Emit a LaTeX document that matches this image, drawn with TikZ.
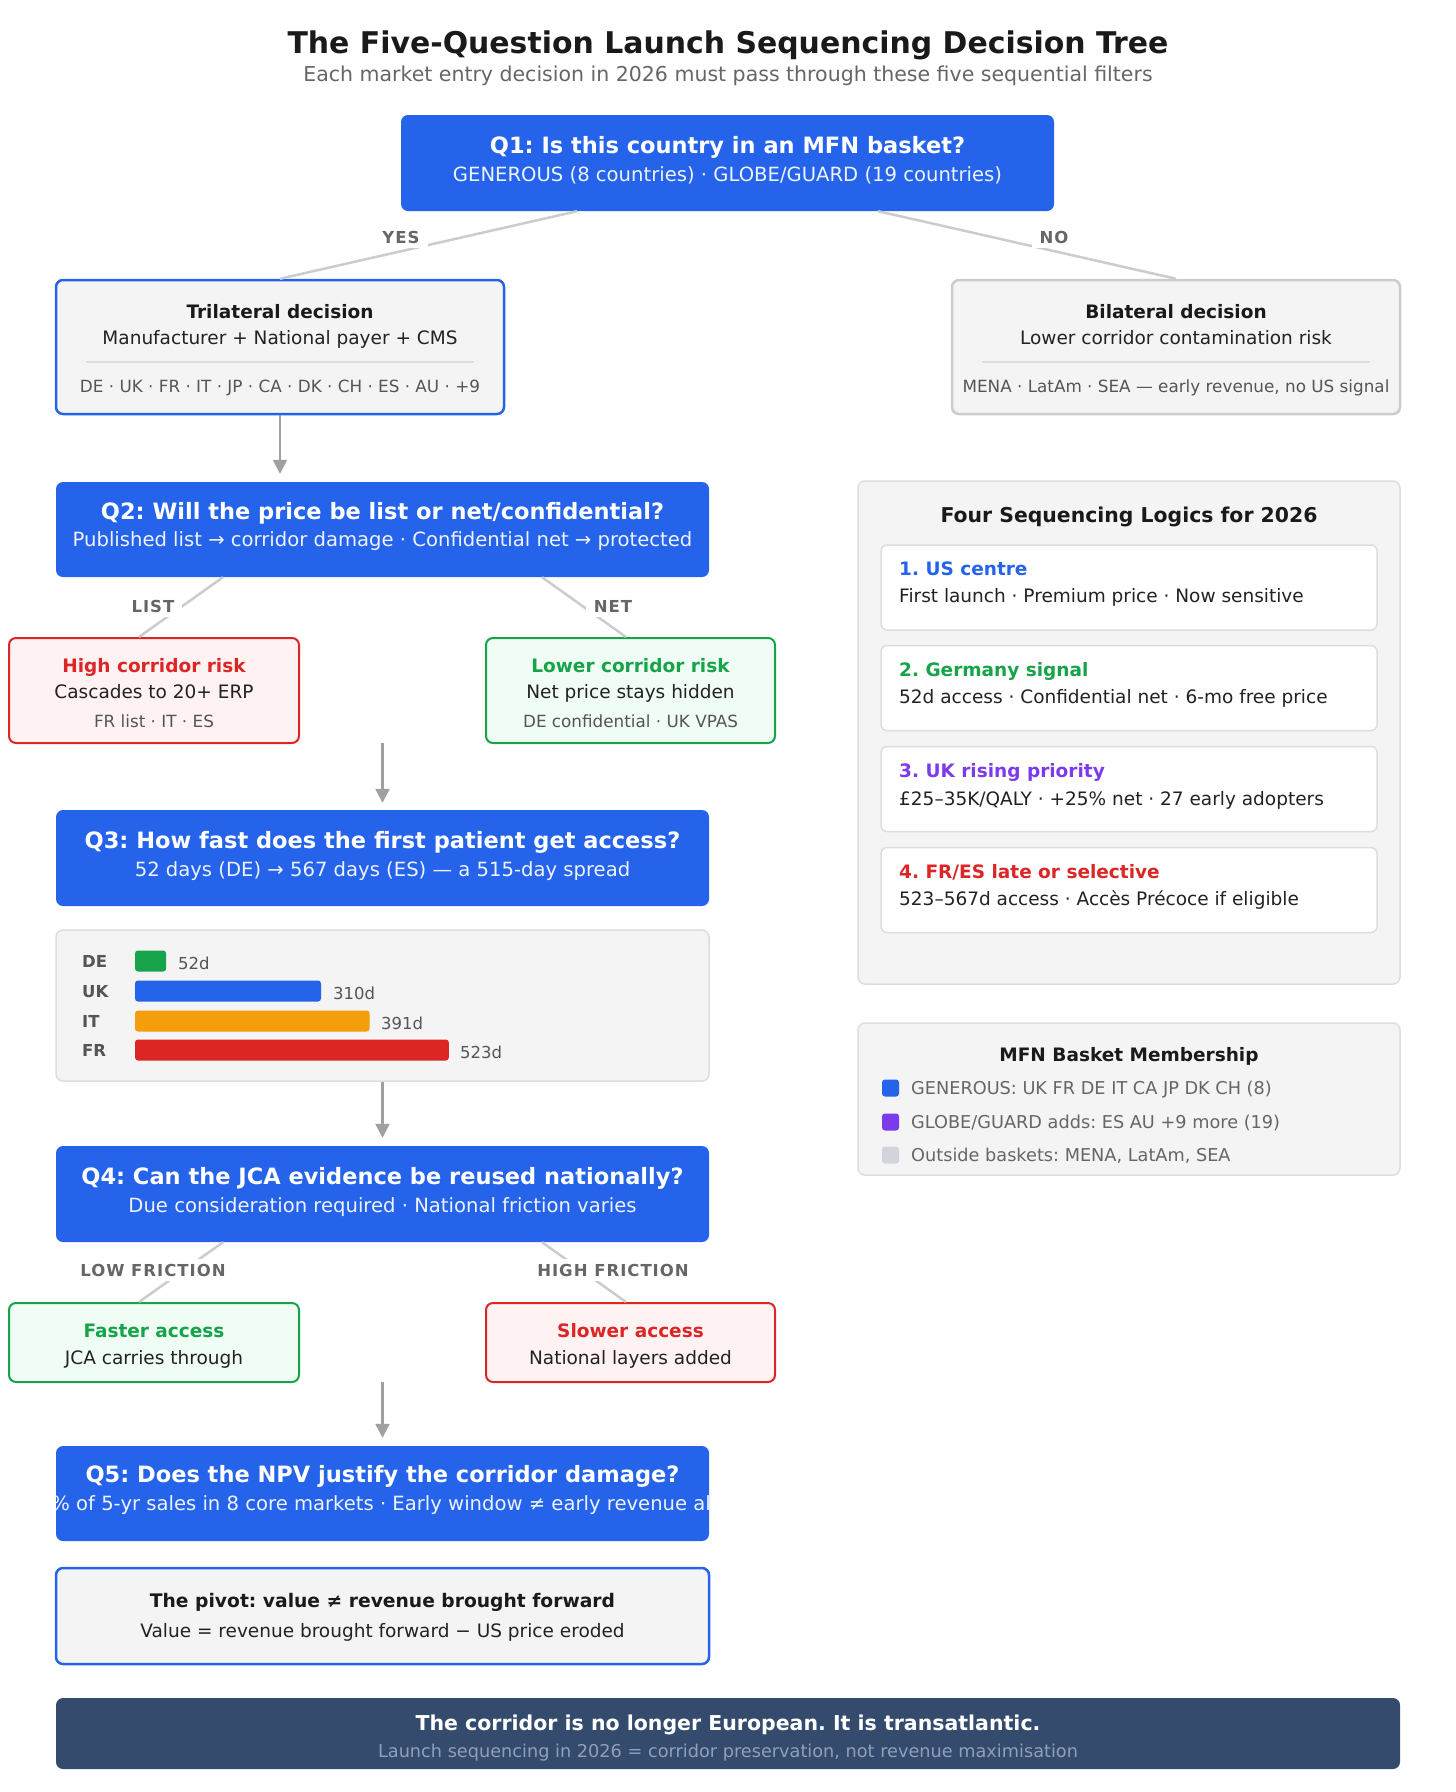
\documentclass[tikz,border=0pt]{standalone}
\usepackage{fontspec}
\setmainfont{DejaVu Sans}
\frenchspacing
\usetikzlibrary{arrows.meta,calc}
\definecolor{qblue}{HTML}{2563EB}
\definecolor{ink}{HTML}{1A1A1A}
\definecolor{bodyc}{HTML}{222222}
\definecolor{subgray}{HTML}{666666}
\definecolor{smgray}{HTML}{555555}
\definecolor{leggray}{HTML}{666666}
\definecolor{lblgray}{HTML}{666666}
\definecolor{qsub}{HTML}{EEF3FF}
\definecolor{panel}{HTML}{F4F4F4}
\definecolor{bordergray}{HTML}{CCCCCC}
\definecolor{lightborder}{HTML}{DDDDDD}
\definecolor{redc}{HTML}{DC2626}
\definecolor{redfill}{HTML}{FEF2F2}
\definecolor{greenc}{HTML}{16A34A}
\definecolor{greenfill}{HTML}{F0FDF4}
\definecolor{purplec}{HTML}{7C3AED}
\definecolor{orangec}{HTML}{F59E0B}
\definecolor{legendgray}{HTML}{D1D5DB}
\definecolor{bannerc}{HTML}{344B6E}
\definecolor{bannersub}{HTML}{8FA0B8}
\definecolor{connc}{HTML}{CCCCCC}
\definecolor{arrc}{HTML}{A0A0A0}
\newcommand{\myfs}[1]{\fontsize{#1pt}{#1pt}\selectfont}
\begin{document}
\begin{tikzpicture}[x=1pt,y=-1pt,
  tx/.style={inner sep=0pt, anchor=base},
  qbox/.style={fill=qblue, draw=none, rounded corners=7pt, inner sep=0pt, minimum width=653pt},
  qt/.style={tx, font=\myfs{22.5}\bfseries, text=white},
  qs/.style={tx, font=\myfs{19.6}, text=qsub},
  bt/.style={tx, font=\myfs{18.5}\bfseries, text=ink},
  bb/.style={tx, font=\myfs{18.5}, text=bodyc},
  sm/.style={tx, font=\myfs{16.8}, text=smgray},
  lbl/.style={font=\myfs{16.5}\bfseries\addfontfeature{LetterSpace=6}, text=lblgray, fill=white, inner xsep=8pt, inner ysep=5pt, anchor=center},
  graybox/.style={fill=panel, draw=lightborder, line width=1.5pt, rounded corners=7pt, inner sep=0pt},
  tribox/.style={fill=panel, draw=qblue, line width=2.5pt, rounded corners=7pt, inner sep=0pt},
  bilbox/.style={fill=panel, draw=bordergray, line width=2.5pt, rounded corners=7pt, inner sep=0pt},
  redbox/.style={fill=redfill, draw=redc, line width=2pt, rounded corners=7pt, inner sep=0pt},
  greenbox/.style={fill=greenfill, draw=greenc, line width=2pt, rounded corners=7pt, inner sep=0pt},
  card/.style={fill=white, draw=lightborder, line width=1.5pt, rounded corners=6pt, inner sep=0pt, minimum width=496pt, minimum height=85pt},
  conn/.style={draw=connc, line width=2.5pt},
  arr/.style={draw=arrc, line width=2.2pt, -{Triangle[width=14pt,length=14pt]}},
  sepline/.style={draw=lightborder, line width=1.5pt},
  rowlbl/.style={tx, anchor=base west, font=\myfs{16.5}\bfseries, text=smgray},
  rowval/.style={tx, anchor=base west, font=\myfs{16.5}, text=smgray},
  bar/.style={rounded corners=3pt, draw=none},
  cardt/.style={tx, anchor=base west, font=\myfs{18.5}\bfseries},
  cardb/.style={tx, anchor=base west, font=\myfs{18.5}, text=bodyc},
  legsq/.style={rounded corners=3pt, draw=none, minimum size=17pt, inner sep=0pt},
  legtx/.style={tx, anchor=base west, font=\myfs{17.7}, text=leggray}
]
\useasboundingbox (0,0) rectangle (1456,1792);
\fill[white] (0,0) rectangle (1456,1792);

% ---------- title ----------
\node[tx, font=\myfs{29.9}\bfseries, text=ink] (title) at (728,53) {The Five-Question Launch Sequencing Decision Tree};
\node[tx, font=\myfs{20.5}, text=subgray] (subtitle) at (728,81) {Each market entry decision in 2026 must pass through these five sequential filters};

% ---------- Q1 ----------
\node[qbox, minimum height=96pt] (q1) at (727.5,163) {};
\node[qt] (q1t) at (727.5,153) {Q1: Is this country in an MFN basket?};
\node[qs] (q1s) at (727.5,181) {GENEROUS (8 countries) · GLOBE/GUARD (19 countries)};

% ---------- level 1 boxes ----------
\node[tribox, minimum width=448pt, minimum height=134pt] (tri) at (280,347) {};
\node[bt] (trit) at (280,318) {Trilateral decision};
\node[bb] (trib) at (280,344) {Manufacturer + National payer + CMS};
\draw[sepline] (86,362) -- (474,362);
\node[sm] (tris) at (280,392) {DE · UK · FR · IT · JP · CA · DK · CH · ES · AU · +9};

\node[bilbox, minimum width=448pt, minimum height=134pt] (bil) at (1176,347) {};
\node[bt] (bilt) at (1176,318) {Bilateral decision};
\node[bb] (bilb) at (1176,344) {Lower corridor contamination risk};
\draw[sepline] (982,362) -- (1370,362);
\node[sm] (bils) at (1176,392) {MENA · LatAm · SEA — early revenue, no US signal};

\draw[conn] ([xshift=-150.5pt]q1.south) -- (tri.north);
\draw[conn] ([xshift=150.5pt]q1.south) -- (bil.north);
\node[lbl] (yes) at (401,237) {YES};
\node[lbl] (no) at (1054,237) {NO};

% ---------- Q2 ----------
\node[qbox, minimum height=95pt] (q2) at (382.5,529.5) {};
\node[qt] (q2t) at (382.5,519) {Q2: Will the price be list or net/confidential?};
\node[qs] (q2s) at (382.5,546) {Published list → corridor damage · Confidential net → protected};
\draw[arr] (tri.south) -- ([yshift=8pt]q2.north -| tri.south);

\node[redbox, minimum width=290pt, minimum height=105pt] (hi) at (154,690.5) {};
\node[tx, font=\myfs{18.5}\bfseries, text=redc] (hit) at (154,672) {High corridor risk};
\node[bb] (hib) at (154,698) {Cascades to 20+ ERP};
\node[sm] (his) at (154,727) {FR list · IT · ES};

\node[greenbox, minimum width=289pt, minimum height=105pt] (lo) at (630.5,690.5) {};
\node[tx, font=\myfs{18.5}\bfseries, text=greenc] (lot) at (630.5,672) {Lower corridor risk};
\node[bb] (lob) at (630.5,698) {Net price stays hidden};
\node[sm] (los) at (630.5,727) {DE confidential · UK VPAS};

\draw[conn] ([xshift=-159.5pt]q2.south) -- ([xshift=-15pt]hi.north);
\draw[conn] ([xshift=159.5pt]q2.south) -- ([xshift=-4.5pt]lo.north);
\node[lbl] (list) at (153,606) {LIST};
\node[lbl] (net) at (613,606) {NET};

% ---------- Q3 ----------
\node[qbox, minimum height=96pt] (q3) at (382.5,858) {};
\node[qt] (q3t) at (382.5,848) {Q3: How fast does the first patient get access?};
\node[qs] (q3s) at (382.5,876) {52 days (DE) → 567 days (ES) — a 515-day spread};
\coordinate (m1) at (382.5,743);
\draw[arr] (m1) -- ([yshift=7pt]q3.north);

% bar chart
\node[graybox, minimum width=653pt, minimum height=151pt] (chart) at (382.5,1005.5) {};
\node[rowlbl] (deL) at (82,967) {DE};
\node[rowlbl] (ukL) at (82,997) {UK};
\node[rowlbl] (itL) at (82,1027) {IT};
\node[rowlbl] (frL) at (82,1056) {FR};
\fill[bar, greenc] (135,950.5) rectangle (166.2,971.5);
\fill[bar, qblue] (135,980.5) rectangle (321,1001.5);
\fill[bar, orangec] (135,1010.5) rectangle (369.6,1031.5);
\fill[bar, redc] (135,1039.5) rectangle (448.8,1060.5);
\node[rowval] (deV) at (178,969) {52d};
\node[rowval] (ukV) at (333,999) {310d};
\node[rowval] (itV) at (381,1029) {391d};
\node[rowval] (frV) at (460,1058) {523d};

% ---------- Q4 ----------
\node[qbox, minimum height=96pt] (q4) at (382.5,1194) {};
\node[qt] (q4t) at (382.5,1184) {Q4: Can the JCA evidence be reused nationally?};
\node[qs] (q4s) at (382.5,1212) {Due consideration required · National friction varies};
\draw[arr] (chart.south) -- ([yshift=8pt]q4.north);

\node[greenbox, minimum width=290pt, minimum height=79pt] (fast) at (154,1342.5) {};
\node[tx, font=\myfs{18.5}\bfseries, text=greenc] (fastt) at (154,1337) {Faster access};
\node[bb] (fastb) at (154,1364) {JCA carries through};

\node[redbox, minimum width=289pt, minimum height=79pt] (slow) at (630.5,1342.5) {};
\node[tx, font=\myfs{18.5}\bfseries, text=redc] (slowt) at (630.5,1337) {Slower access};
\node[bb] (slowb) at (630.5,1364) {National layers added};

\draw[conn] ([xshift=-159.5pt]q4.south) -- ([xshift=-15pt]fast.north);
\draw[conn] ([xshift=159.5pt]q4.south) -- ([xshift=-4.5pt]slow.north);
\node[lbl] (lowf) at (153,1270) {LOW FRICTION};
\node[lbl] (highf) at (613,1270) {HIGH FRICTION};

% ---------- Q5 ----------
\node[qbox, minimum height=95pt] (q5) at (382.5,1493.5) {};
\node[qt] (q5t) at (382.5,1482) {Q5: Does the NPV justify the corridor damage?};
\begin{scope}
\clip[rounded corners=7pt] (56,1446) rectangle (709,1541);
\node[qs, anchor=base east] (q5s) at (711,1510) {\% of 5-yr sales in 8 core markets · Early window ≠ early revenue al};
\end{scope}
\coordinate (m2) at (382.5,1382);
\draw[arr] (m2) -- ([yshift=8pt]q5.north);

% pivot
\node[tribox, minimum width=653pt, minimum height=96pt] (pivot) at (382.5,1616) {};
\node[tx, font=\myfs{18.7}\bfseries, text=ink] (pivott) at (382.5,1607) {The pivot: value ≠ revenue brought forward};
\node[bb] (pivotb) at (382.5,1637) {Value = revenue brought forward − US price eroded};

% banner
\node[fill=bannerc, rounded corners=7pt, minimum width=1344pt, minimum height=71pt, inner sep=0pt] (banner) at (728,1733.5) {};
\node[tx, font=\myfs{20.5}\bfseries, text=white] (bannert) at (728,1730) {The corridor is no longer European. It is transatlantic.};
\node[tx, font=\myfs{17.7}, text=bannersub] (banners) at (728,1757) {Launch sequencing in 2026 = corridor preservation, not revenue maximisation};

% ---------- right panel ----------
\node[graybox, minimum width=542pt, minimum height=503pt] (logics) at (1129,732.5) {};
\node[tx, font=\myfs{20.4}\bfseries, text=ink] (logicst) at (1129,522) {Four Sequencing Logics for 2026};
\node[card] (c1) at (1129,587.5) {};
\node[cardt, text=qblue] (c1t) at (899,575) {1. US centre};
\node[cardb] (c1b) at (899,602) {First launch · Premium price · Now sensitive};
\node[card] (c2) at (1129,688) {};
\node[cardt, text=greenc] (c2t) at (899,676) {2. Germany signal};
\node[cardb] (c2b) at (899,703) {52d access · Confidential net · 6-mo free price};
\node[card] (c3) at (1129,789) {};
\node[cardt, text=purplec] (c3t) at (899,777) {3. UK rising priority};
\node[cardb] (c3b) at (899,805) {£25–35K/QALY · +25\% net · 27 early adopters};
\node[card] (c4) at (1129,890) {};
\node[cardt, text=redc] (c4t) at (899,878) {4. FR/ES late or selective};
\node[cardb] (c4b) at (899,905) {523–567d access · Accès Précoce if eligible};

\node[graybox, minimum width=542pt, minimum height=152pt] (mfn) at (1129,1099) {};
\node[tx, font=\myfs{18.5}\bfseries, text=ink] (mfnt) at (1129,1061) {MFN Basket Membership};
\node[legsq, fill=qblue] (sq1) at (890.5,1088) {};
\node[legtx] (lg1) at (911,1094) {GENEROUS: UK FR DE IT CA JP DK CH (8)};
\node[legsq, fill=purplec] (sq2) at (890.5,1122) {};
\node[legtx] (lg2) at (911,1128) {GLOBE/GUARD adds: ES AU +9 more (19)};
\node[legsq, fill=legendgray] (sq3) at (890.5,1155) {};
\node[legtx] (lg3) at (911,1161) {Outside baskets: MENA, LatAm, SEA};
\end{tikzpicture}
\end{document}
